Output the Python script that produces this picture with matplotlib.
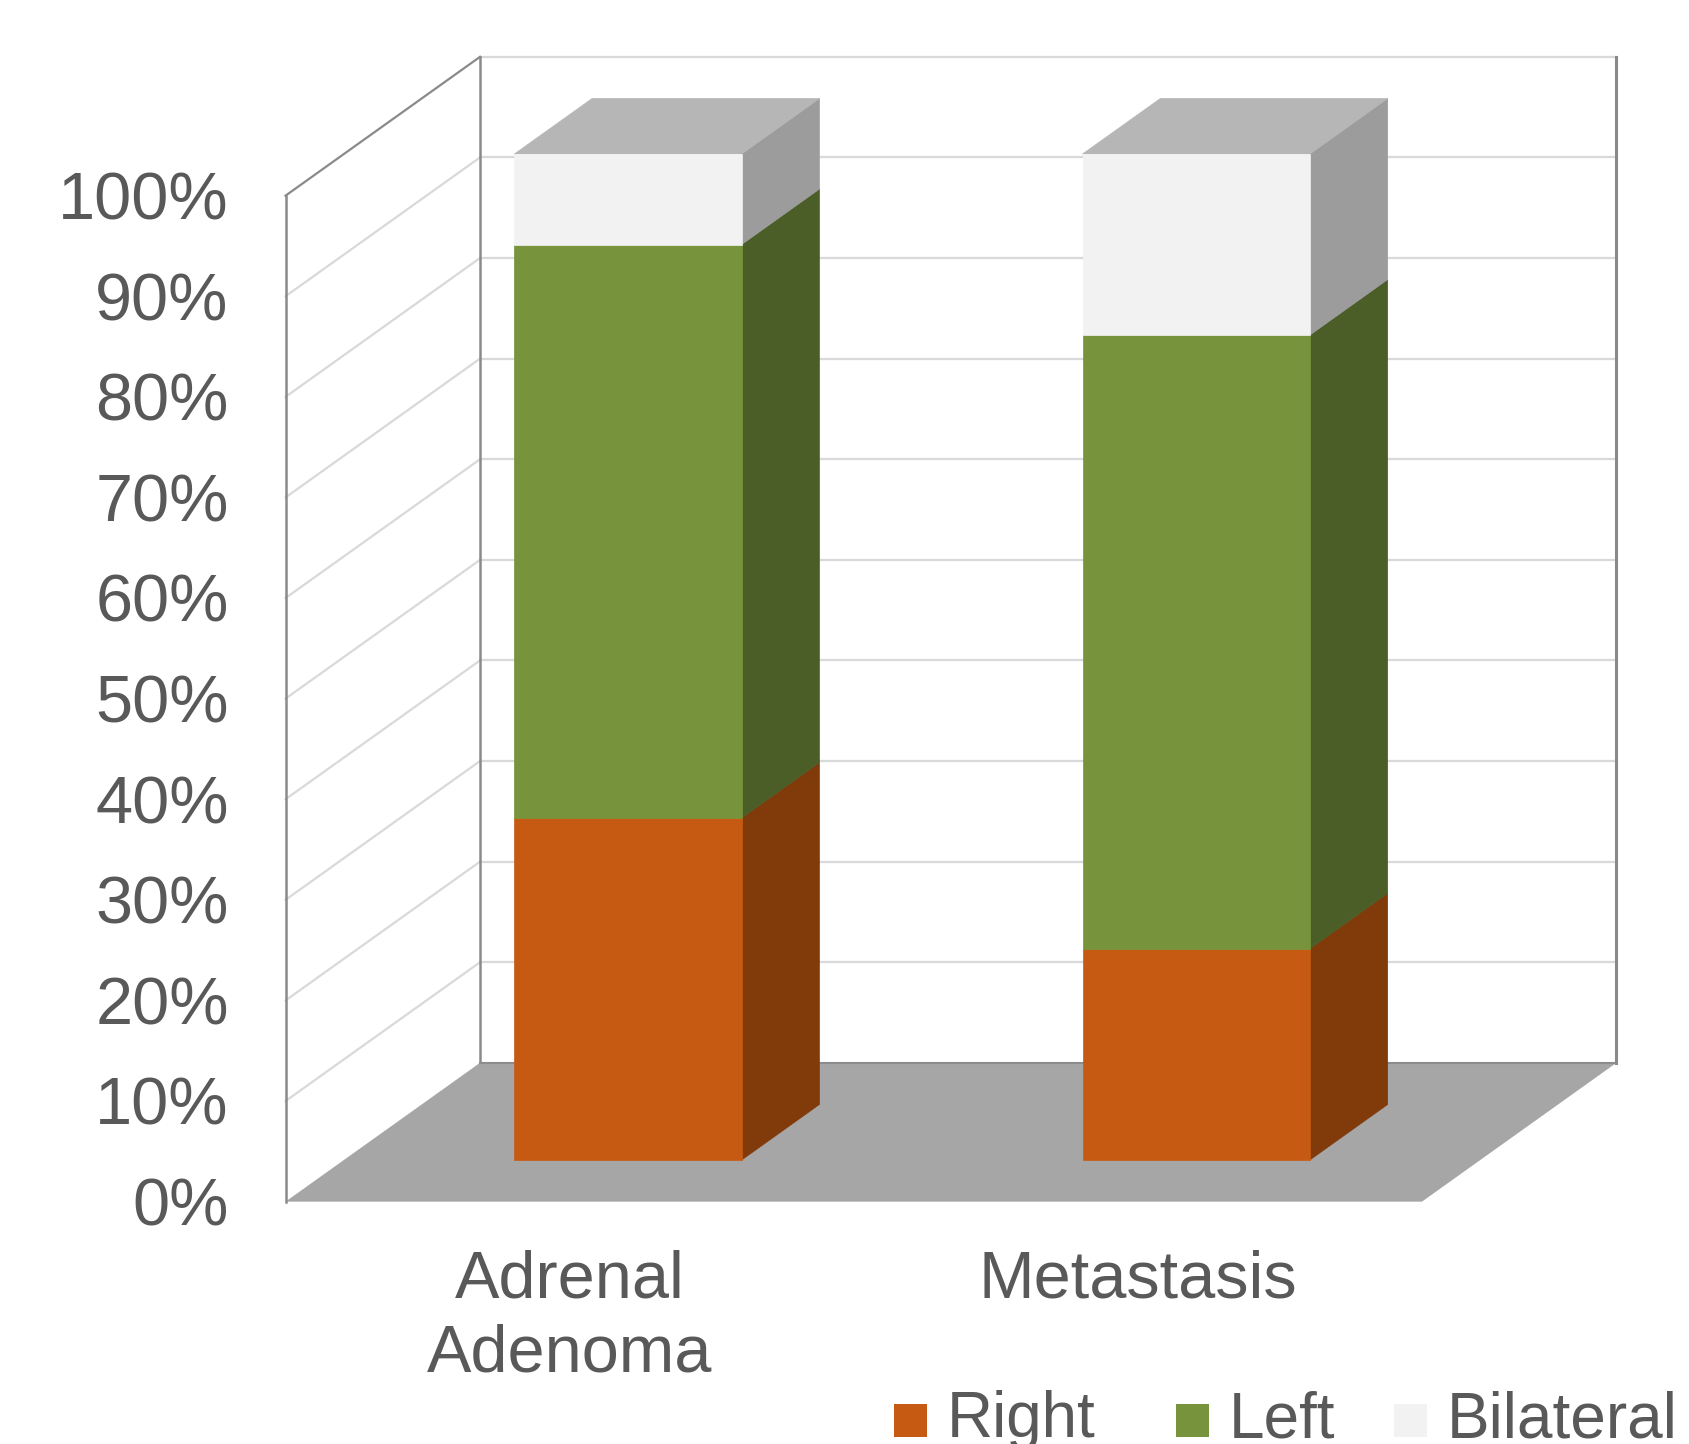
import matplotlib
matplotlib.use('Agg')
import matplotlib.pyplot as plt
from matplotlib.patches import Polygon, Rectangle

# Dados: percentual por lado da lesão
categorias = ['Adrenal\nAdenoma', 'Metastasis']
series = ['Right', 'Left', 'Bilateral']
right = [34, 21]
left = [57, 61]
bilateral = [9, 18]
valores = [right, left, bilateral]
ticks = list(range(0, 101, 10))

cor_frente = ['#C75A12', '#77933C', '#F2F2F2']
cor_lado = ['#813A0A', '#4B5E27', '#9C9C9C']
cor_topo = ['#A04A10', '#5F7830', '#B6B6B6']
cor_texto = '#595959'
cor_grade = '#D9D9D9'
cor_eixo = '#8A8A8A'
cor_piso = '#A6A6A6'

# Projeção oblíqua: profundidade d em [0, 1]
DX = 0.3423   # deslocamento horizontal (unidades de categoria)
DZ = 13.8     # deslocamento vertical (unidades de %)
D0, D1 = 0.3, 0.7     # profundidade da barra
LARG = 0.4            # largura da barra


def proj(x, z, d):
    return (x + DX * d, z + DZ * d)


fig = plt.figure(figsize=(16.89, 14.44), dpi=100)
ax = fig.add_axes([0, 0, 1, 1])
ax.set_xlim(-0.5025, 2.4700)
ax.set_ylim(-24.09, 119.45)
ax.axis('off')

n = len(categorias)

# Parede do fundo e grade
for t in ticks[1:]:
    ax.plot(*zip(proj(0, t, 1), proj(n, t, 1)), color=cor_grade, lw=1.6, zorder=1)
    # grade da parede lateral
    cor_diag = cor_eixo if t == 100 else cor_grade
    ax.plot(*zip(proj(0, t, 0), proj(0, t, 1)), color=cor_diag, lw=1.6, zorder=1)
ax.plot(*zip(proj(n, 0, 1), proj(n, 100, 1)), color=cor_eixo, lw=2.2, zorder=1)
ax.plot(*zip(proj(0, 0, 1), proj(0, 100, 1)), color=cor_eixo, lw=1.8, zorder=1)
ax.plot(*zip(proj(0, 0, 0), proj(0, 100, 0)), color=cor_eixo, lw=1.8, zorder=3)

# Piso
piso = [proj(0, 0, 0), proj(n, 0, 0), proj(n, 0, 1), proj(0, 0, 1)]
ax.add_patch(Polygon(piso, closed=True, facecolor=cor_piso, edgecolor='none', zorder=2))
ax.plot(*zip(proj(0, 0, 1), proj(n, 0, 1)), color='#8C8C8C', lw=1.5, zorder=2)

# Barras empilhadas
for i in range(n):
    x0 = i + 0.5 - LARG / 2
    x1 = i + 0.5 + LARG / 2
    base = 0
    for s in range(len(series)):
        topo = base + valores[s][i]
        frente = [proj(x0, base, D0), proj(x1, base, D0), proj(x1, topo, D0), proj(x0, topo, D0)]
        lado = [proj(x1, base, D0), proj(x1, base, D1), proj(x1, topo, D1), proj(x1, topo, D0)]
        ax.add_patch(Polygon(lado, closed=True, facecolor=cor_lado[s], edgecolor=cor_lado[s], lw=0.5, zorder=4))
        ax.add_patch(Polygon(frente, closed=True, facecolor=cor_frente[s], edgecolor=cor_frente[s], lw=0.5, zorder=5))
        if s == len(series) - 1:
            tampa = [proj(x0, topo, D0), proj(x1, topo, D0), proj(x1, topo, D1), proj(x0, topo, D1)]
            ax.add_patch(Polygon(tampa, closed=True, facecolor=cor_topo[s], edgecolor=cor_topo[s], lw=0.5, zorder=4))
        base = topo

# Rótulos do eixo vertical
fonte = 'Liberation Sans'
for t in ticks:
    ax.text(-0.1, t - 2.37, f'{t}%', ha='right', va='baseline',
            fontsize=48, color=cor_texto, family=fonte)

# Rótulos das categorias
for i, nome in enumerate(categorias):
    for k, linha in enumerate(nome.split('\n')):
        ax.text(i + 0.5, -9.57 - k * 7.36, linha, ha='center', va='baseline',
                fontsize=48, color=cor_texto, family=fonte)

# Legenda
W, H = 1689.0, 1444.0
leg_x = [894, 1176, 1394]
for s, nome in enumerate(series):
    fig.add_artist(Rectangle((leg_x[s] / W, 1 - 1437 / H), 33 / W, 33 / H,
                             transform=fig.transFigure, facecolor=cor_frente[s],
                             edgecolor='none'))
    fig.text((leg_x[s] + 53) / W, 1 - 1437 / H, nome, ha='left', va='baseline',
             fontsize=46, color=cor_texto, family=fonte)

fig.savefig('out.png', dpi=100)
